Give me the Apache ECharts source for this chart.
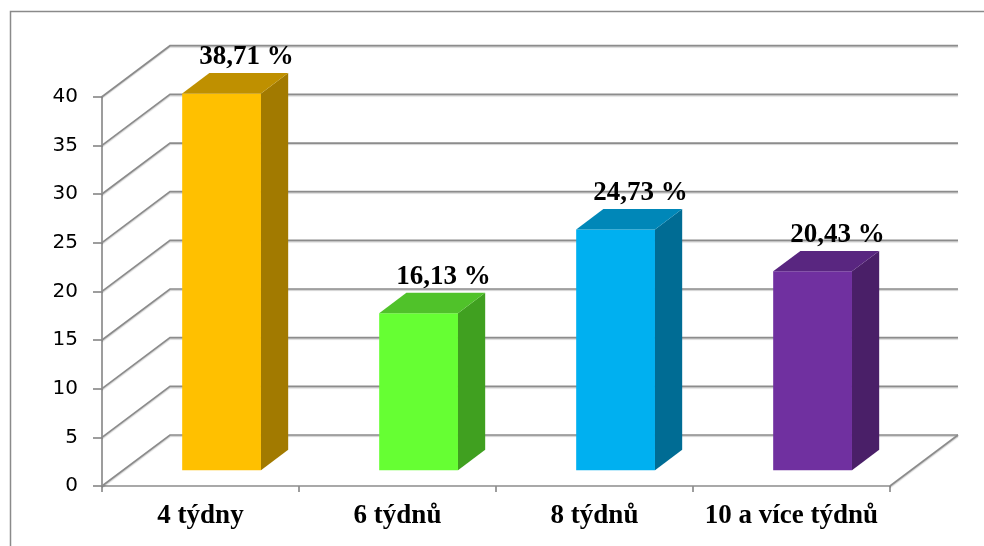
<!DOCTYPE html>
<html>
<head>
<meta charset="utf-8">
<script src="https://cdn.jsdelivr.net/npm/echarts@6/dist/echarts.min.js"></script>
<style>
  html, body { margin: 0; padding: 0; background: #ffffff; }
  #chart { width: 984px; height: 546px; }
</style>
</head>
<body>
<div id="chart"></div>
<script>
// Délka kúry – podíl respondentů (%)
const categories = ['4 týdny', '6 týdnů', '8 týdnů', '10 a více týdnů'];
const shares = [38.71, 16.13, 24.73, 20.43];
const yTicks = [0, 5, 10, 15, 20, 25, 30, 35, 40];

// face colours of each column: front, top, right side
const frontColors = ['#FFC000', '#66FF33', '#00B0F0', '#7030A0'];
const topColors = ['#BF9000', '#50C22A', '#0087B8', '#592680'];
const sideColors = ['#A27A00', '#40A020', '#006C94', '#4A1F68'];

// pseudo-3D geometry (screen pixels / fractions of the depth)
const DEPTH = [68, -51];      // floor and wall depth
const BAR_OFFSET = 0.31;      // how far into the depth the front face sits
const BAR_DEPTH = 0.40;       // depth of a column
const BAR_WIDTH = 0.40;       // column width as a share of the category band
const GRID_COLOR = '#8c8c8c';

const formatShare = v => v.toFixed(2).replace('.', ',') + ' %';

function renderWall(params, api) {
  const v = api.value(1);
  const cs = params.coordSys;
  const y = api.coord([0, v])[1];
  const x0 = cs.x, x1 = cs.x + cs.width;
  const lineStyle = { stroke: GRID_COLOR, lineWidth: 1.7, fill: null,
    shadowColor: 'rgba(0,0,0,0.18)', shadowOffsetY: 1.2, shadowBlur: 1 };
  const children = [{
    type: 'polyline',
    shape: { points: [[x0, y], [x0 + DEPTH[0], y + DEPTH[1]], [x1 + DEPTH[0], y + DEPTH[1]]] },
    style: lineStyle
  }];
  if (v === 0) {
    children.push({
      type: 'line',
      shape: { x1: x1, y1: y, x2: x1 + DEPTH[0], y2: y + DEPTH[1] },
      style: lineStyle
    });
  }
  return { type: 'group', children };
}

function renderColumn(params, api) {
  const i = api.value(0);
  const v = api.value(1);
  const base = api.coord([i, 0]);
  const top = api.coord([i, v]);
  const w = api.size([1, 0])[0] * BAR_WIDTH;
  const ox = DEPTH[0] * BAR_OFFSET, oy = DEPTH[1] * BAR_OFFSET;
  const dx = DEPTH[0] * BAR_DEPTH, dy = DEPTH[1] * BAR_DEPTH;
  const xl = base[0] - w / 2 + ox, xr = xl + w;
  const yb = base[1] + oy, yt = top[1] + oy;
  return {
    type: 'group',
    children: [
      { type: 'polygon', shape: { points: [[xl, yt], [xr, yt], [xr, yb], [xl, yb]] },
        style: { fill: frontColors[i] } },
      { type: 'polygon', shape: { points: [[xr, yt], [xr + dx, yt + dy], [xr + dx, yb + dy], [xr, yb]] },
        style: { fill: sideColors[i] } },
      { type: 'polygon', shape: { points: [[xl, yt], [xl + dx, yt + dy], [xr + dx, yt + dy], [xr, yt]] },
        style: { fill: topColors[i] } },
      { type: 'text', x: (xl + xr) / 2 + 25, y: yt + dy - 16,
        style: { text: formatShare(v), fill: '#000000', align: 'center', verticalAlign: 'middle',
          fontFamily: 'Liberation Serif', fontWeight: 'bold', fontSize: 27 } }
    ]
  };
}

const chart = echarts.init(document.getElementById('chart'), null, { renderer: 'canvas' });
chart.setOption({
  animation: false,
  backgroundColor: '#ffffff',
  graphic: [{
    type: 'rect',
    shape: { x: 10.5, y: 11.5, width: 1200, height: 800 },
    style: { fill: null, stroke: '#8a8a8a', lineWidth: 1.5 },
    silent: true
  }],
  grid: { left: 102, right: 94, top: 96.7, bottom: 60 },
  xAxis: {
    type: 'category',
    data: categories,
    boundaryGap: true,
    axisLine: { show: true, lineStyle: { color: GRID_COLOR, width: 1.7 } },
    axisTick: { show: true, length: 6, alignWithLabel: false, lineStyle: { color: GRID_COLOR, width: 1.7 } },
    splitLine: { show: false },
    axisLabel: { interval: 0, margin: 17, color: '#000000', fontFamily: 'Liberation Serif',
      fontWeight: 'bold', fontSize: 27 }
  },
  yAxis: {
    type: 'value',
    min: 0, max: 40, interval: 5,
    axisLine: { show: true, lineStyle: { color: GRID_COLOR, width: 1.7 } },
    axisTick: { show: true, length: 9, lineStyle: { color: GRID_COLOR, width: 1.7 } },
    splitLine: { show: false },
    axisLabel: { margin: 24, color: '#000000', fontFamily: 'DejaVu Sans', fontSize: 20 }
  },
  series: [
    {
      type: 'custom',
      z: 1,
      silent: true,
      renderItem: renderWall,
      encode: { x: 0, y: 1 },
      data: yTicks.map(v => [0, v])
    },
    {
      type: 'custom',
      z: 3,
      renderItem: renderColumn,
      encode: { x: 0, y: 1 },
      data: shares.map((v, i) => [i, v])
    }
  ]
});
</script>
</body>
</html>
